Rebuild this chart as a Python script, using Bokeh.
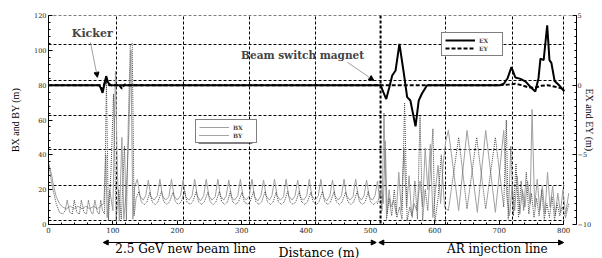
from bokeh.plotting import figure
from bokeh.layouts import column
from bokeh.models import (Range1d, LinearAxis, FixedTicker, SingleIntervalTicker, Legend,
                          LegendItem, Label, Arrow, NormalHead, BoxAnnotation, Span)
from bokeh.core.properties import value
from bokeh.embed import file_html
from bokeh.resources import INLINE

# ---------------- data ----------------
BX = [(0, 35), (4, 30), (8, 22), (12, 16), (17, 12), (22, 10), (28, 9), (34, 10.5), (40, 9), (46, 10.5),
      (52, 9), (58, 10.5), (64, 9), (70, 10.5), (76, 9), (82, 11), (86, 12),
      (89, 40), (91, 4), (95, 20), (100, 8), (104, 88), (107, 30), (110, 2), (114, 50), (117, 3),
      (121, 20), (125, 55), (128, 100), (131, 3), (134, 22),
      (138, 26), (142, 16.5), (147, 14), (151, 16.5), (155, 25.5), (159, 16), (164, 14), (169, 16.5),
      (173, 26), (177, 16.5), (182, 14), (187, 16), (191, 26), (195, 16.5), (200, 14), (205, 16.5),
      (209, 25.5), (213, 16), (218, 14), (223, 16.5), (227, 26), (231, 16.5), (236, 13.5), (241, 16.5),
      (245, 26), (249, 16.5), (254, 14), (259, 16), (263, 26), (267, 16.5), (272, 14), (276, 16.5),
      (280, 25.5), (284, 16), (289, 14), (294, 16.5), (298, 26), (302, 16.5), (307, 14), (312, 16.5),
      (316, 26), (320, 16), (325, 13.5), (330, 16.5), (334, 25.5), (338, 16.5), (343, 14), (347, 16.5),
      (351, 26), (355, 16.5), (360, 14), (365, 16), (369, 26), (373, 16.5), (378, 14), (383, 16.5),
      (387, 25.5), (391, 16), (396, 14), (401, 16.5), (405, 26), (409, 16.5), (414, 14), (419, 16.5),
      (423, 26), (427, 16), (432, 13.5), (437, 16.5), (441, 25.5), (445, 16.5), (450, 14), (455, 16.5),
      (459, 26), (463, 16.5), (468, 14), (473, 16), (477, 26), (481, 16.5), (486, 14), (490, 16.5),
      (494, 25.5), (498, 16), (503, 14), (507, 16.5), (511, 25),
      (514, 15), (517, 20), (520, 12), (523, 48), (526, 6), (529, 20), (532, 10), (536, 14), (540, 6),
      (544, 30), (548, 8), (552, 44), (556, 10), (560, 28), (564, 5), (568, 12), (572, 8), (577, 25),
      (581, 10), (585, 44), (589, 20), (593, 46), (597, 4), (601, 20), (605, 34), (609, 12), (613, 35),
      (617, 48), (621, 54), (637, 8), (650, 54), (666, 7), (679, 54), (694, 7), (707, 54),
      (712, 15), (716, 5), (720, 22), (724, 8), (728, 28), (732, 6), (736, 20), (740, 10), (744, 25),
      (748, 12), (751, 66), (755, 10), (759, 26), (763, 8), (767, 22), (771, 6), (775, 30), (779, 10),
      (783, 22), (787, 5), (791, 18), (795, 7), (799, 20), (803, 6), (808, 18)]

BY = [(0, 36), (3, 28), (7, 20), (12, 12), (17, 7), (22, 6), (26, 8), (29, 14), (33, 7), (37, 6),
      (40, 14), (44, 7), (48, 6), (51, 14), (55, 7), (59, 6), (62, 14), (66, 7), (69, 6), (72, 14),
      (76, 7), (79, 6), (81, 14), (84, 8), (87, 6),
      (90, 82), (93, 2), (97, 30), (101, 75), (105, 2), (109, 20), (113, 3), (118, 45), (121, 2),
      (124, 60), (127, 103), (130, 104), (133, 5), (136, 15),
      (140.5, 19), (144, 13), (149, 11.5), (153, 13), (157.5, 18.5), (161, 13), (166, 11.5), (170, 13),
      (175.5, 19), (179, 13), (184, 11.5), (188, 13), (193.5, 18.5), (197, 13), (202, 11.5), (206, 13),
      (211.5, 19), (215, 13), (220, 11.5), (224, 13), (229.5, 19), (233, 13), (238, 11.5), (242, 13),
      (247.5, 18.5), (251, 13), (256, 11.5), (260, 13), (265.5, 19), (269, 13), (274, 11.5), (278, 13),
      (282.5, 19), (286, 13), (291, 11.5), (295, 13), (300.5, 18.5), (304, 13), (309, 11.5), (313, 13),
      (318.5, 19), (322, 13), (327, 11.5), (331, 13), (336.5, 19), (340, 13), (345, 11.5), (349, 13),
      (353.5, 18.5), (357, 13), (362, 11.5), (366, 13), (371.5, 19), (375, 13), (380, 11.5), (384, 13),
      (389.5, 19), (393, 13), (398, 11.5), (402, 13), (407.5, 18.5), (411, 13), (416, 11.5), (420, 13),
      (425.5, 19), (429, 13), (434, 11.5), (438, 13), (443.5, 19), (447, 13), (452, 11.5), (456, 13),
      (461.5, 18.5), (465, 13), (470, 11.5), (474, 13), (479.5, 19), (483, 13), (488, 11.5), (492, 13),
      (496.5, 19), (500, 13), (505, 11.5), (509, 13),
      (511, 12), (515, 18), (518, 8), (521, 64), (525, 3), (529, 15), (533, 5), (537, 20), (541, 4),
      (545, 10), (549, 3), (553, 70), (557, 2), (561, 10), (565, 4), (569, 25), (573, 3), (577, 62),
      (581, 2), (585, 20), (589, 8), (593, 30), (597, 55), (600, 1), (605, 15), (610, 40), (615, 10),
      (621, 8), (637, 50), (650, 9), (665, 50), (679, 9), (694, 50), (707, 10),
      (711, 60), (714, 3), (718, 45), (722, 5), (726, 35), (730, 4), (734, 25), (738, 8), (742, 30),
      (746, 6), (750, 18), (754, 4), (758, 15), (762, 5), (766, 20), (770, 3), (774, 12), (778, 4),
      (782, 16), (786, 3), (790, 12), (794, 5), (798, 10), (803, 4), (808, 12)]

EX = [(0, 0), (79, 0), (81.5, -0.25), (84, -0.55), (87, 0.1), (89.6, 0.65), (92, 0.25), (94, 0.1), (97, 0),
      (515.7, 0), (520, -0.5), (524.5, -1.0), (529, -0.2), (533.8, 0.69), (539, 1.05), (545, 2.97),
      (552, 0.8), (557, -0.86), (562, -1.1), (570, -2.96), (575, -1.1), (580, -0.6), (588, 0),
      (701, 0), (707, 0.1), (713, 0.5), (719, 1.3), (725, 0.55), (733, 0.45), (741, 0.25), (749, -0.15),
      (756, -0.45), (761, 0.5), (764, 1.9), (769, 1.8), (774.5, 4.3), (778, 1.8), (781, 1.6), (786, 0.3),
      (793, 0), (801, -0.45)]

EY = [(0, 0), (80, 0), (84, -0.3), (89, 0.4), (94, 0), (110, 0), (114, -0.25), (118, 0.05), (122, 0),
      (700, 0), (715, 0.05), (725, 0.1), (735, 0), (745, -0.15), (755, -0.2), (765, -0.05), (775, 0),
      (785, -0.1), (795, -0.2), (801, -0.35)]

X_GRID = [106, 210, 312, 414, 617, 720, 800]
Y_GRID = [2.3, 22.4, 43.1, 62.6, 82.7, 103.3, 119.9]
SECTION_LINE = 515.7

SECTIONS = [("2.5 GeV new beam line", 85, 509, 213), ("AR injection line", 513, 800, 697)]
XLABEL = ("Distance (m)", 420)

FONT = "Liberation Serif"
WFONT = "DejaVu Serif"

XR = Range1d(0, 820)

p = figure(frame_width=528, frame_height=209, x_range=XR, y_range=Range1d(0, 120),
           toolbar_location=None, output_backend="svg",
           min_border_left=48, min_border_right=0, min_border_top=15, min_border_bottom=12)
p.outline_line_color = None

# grids
p.xgrid.ticker = FixedTicker(ticks=X_GRID)
p.ygrid.ticker = FixedTicker(ticks=Y_GRID)
p.grid.grid_line_color = "black"
p.grid.grid_line_dash = "3 2"
p.grid.grid_line_width = 1
p.add_layout(BoxAnnotation(left=801, right=820, bottom=0, top=120, fill_color="white",
                           fill_alpha=1, line_color=None, level="underlay"))
p.add_layout(Span(location=SECTION_LINE, dimension="height", line_color="black",
                  line_dash="3 2", line_width=2, level="underlay"))

# axes
def style_axis(ax, label_size="7px"):
    ax.axis_line_color = "black"
    ax.major_tick_in = 4
    ax.major_tick_out = 0
    ax.minor_tick_in = 2
    ax.minor_tick_out = 0
    ax.major_tick_line_color = "black"
    ax.minor_tick_line_color = "black"
    ax.major_label_text_font = WFONT
    ax.major_label_text_font_size = label_size
    ax.major_label_text_color = "#222222"
    ax.axis_label_text_font = FONT
    ax.axis_label_text_font_size = "10px"
    ax.axis_label_text_font_style = "normal"
    ax.axis_label_text_color = "black"

xa = p.xaxis[0]
xa.ticker = SingleIntervalTicker(interval=100, num_minor_ticks=5)
xa.bounds = (0, 800)
style_axis(xa)
xa.major_label_standoff = 2

ya = p.yaxis[0]
ya.ticker = SingleIntervalTicker(interval=20, num_minor_ticks=5)
style_axis(ya, "6.5px")
ya.major_label_standoff = 2
ya.axis_label = "BX and BY (m)"
ya.axis_label_standoff = 10

p.extra_y_ranges = {"e": Range1d(-10, 5)}
ra = LinearAxis(y_range_name="e", ticker=SingleIntervalTicker(interval=5, num_minor_ticks=10))
style_axis(ra, "6.5px")
ra.major_label_standoff = 1
ra.axis_label = "EX and EY (m)"
ra.axis_label_standoff = -10
p.add_layout(ra, "right")

# series
r_bx = p.line([a for a, b in BX], [b for a, b in BX], line_color="#a0a0a0", line_width=1)
r_by = p.line([a for a, b in BY], [b for a, b in BY], line_color="#4a4a4a", line_width=1,
              line_dash="1 1")
r_ey = p.line([a for a, b in EY], [b for a, b in EY], line_color="black", line_width=2,
              line_dash="4 2", y_range_name="e")
r_ex = p.line([a for a, b in EX], [b for a, b in EX], line_color="black", line_width=2,
              y_range_name="e")

# drop shadows behind the two legend boxes (screen offset ~2 px right/down)
for l, r, b, t in [(233, 316.8, 46.5, 58.5), (613.5, 705, 97, 108.5)]:
    p.add_layout(BoxAnnotation(left=l, right=r, bottom=b, top=t, fill_color="black",
                               fill_alpha=1, line_color=None))

def make_legend(items, loc):
    return Legend(items=items, location=loc, margin=0, padding=3, spacing=0,
                  glyph_width=30, glyph_height=8, label_height=8, label_standoff=4,
                  label_text_font=WFONT, label_text_font_size="6px", label_text_font_style="bold",
                  border_line_color="black", border_line_width=1.2,
                  background_fill_color="white", background_fill_alpha=1)

p.add_layout(make_legend([LegendItem(label="BX", renderers=[r_bx]),
                          LegendItem(label="BY", renderers=[r_by])], (147, 81)))
p.add_layout(make_legend([LegendItem(label="EX", renderers=[r_ex]),
                          LegendItem(label="EY", renderers=[r_ey])], (393, 168)))

# annotations
p.add_layout(Label(x=68, y=109.7, text="Kicker", text_font=WFONT, text_font_style="bold",
                   text_font_size="11px", text_align="center", text_baseline="middle"))
p.add_layout(Arrow(x_start=65.2, y_start=104.5, x_end=76, y_end=84.5, line_color="#888888",
                   line_width=0.8, end=NormalHead(size=5, fill_color="black", line_color="black")))
p.add_layout(Label(x=394.6, y=97.6, text="Beam switch magnet", text_font=WFONT,
                   text_font_style="bold", text_font_size="10.5px", text_align="center",
                   text_baseline="middle"))
p.add_layout(Arrow(x_start=464, y_start=93.2, x_end=505.3, y_end=82.7, line_color="#888888",
                   line_width=0.8, end=NormalHead(size=5, fill_color="black", line_color="black")))

# ---------- strip below the axis: section arrows and labels ----------
q = figure(frame_width=528, frame_height=22, x_range=XR, y_range=Range1d(22, 0),
           toolbar_location=None, output_backend="svg", x_axis_type=None, y_axis_type=None,
           min_border_left=48, min_border_right=0, min_border_top=0, min_border_bottom=0)
q.outline_line_color = None
q.grid.visible = False
for name, x0, x1, xc in SECTIONS:
    q.add_layout(Arrow(x_start=x0, y_start=6, x_end=x1, y_end=6, line_color="black", line_width=1,
                       start=NormalHead(size=5, fill_color="black"),
                       end=NormalHead(size=5, fill_color="black")))
q.text(x=[s[3] for s in SECTIONS], y=[12, 12], text=[s[0] for s in SECTIONS],
       text_font=value(WFONT), text_font_size="12px", text_align="center", text_baseline="middle")
q.text(x=[XLABEL[1]], y=[15.5], text=[XLABEL[0]], text_font=value(WFONT), text_font_size="12.5px",
       text_align="center", text_baseline="middle")

layout = column(p, q, spacing=0)
open("out.html", "w").write(file_html(layout, INLINE))
